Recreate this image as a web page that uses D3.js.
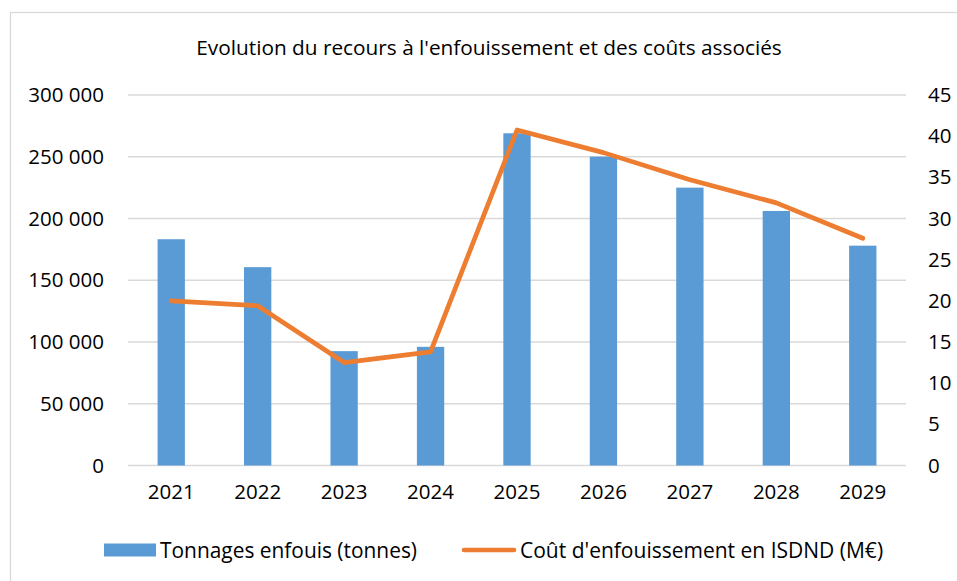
<!DOCTYPE html>
<html>
<head>
    <title>Evolution du recours à l'enfouissement</title>
    <script src="https://d3js.org/d3.v7.min.js"></script>
    <style>
        body, html {
            margin: 0;
            background: #fff;
            overflow: hidden;
        }
        text {
            font-family: "Open Sans", "Noto Sans", sans-serif;
            fill: #000;
        }
    </style>
</head>
<body>
<div id="chart"></div>
<script>
    // data
    const years = ["2021", "2022", "2023", "2024", "2025", "2026", "2027", "2028", "2029"];
    const tonnages = [183200, 160600, 92600, 96100, 269000, 250100, 225000, 206100, 178000];
    const costs = [20.0, 19.4, 12.5, 13.8, 40.75, 38.0, 34.7, 31.9, 27.6];
    const leftTicks = [0, 50000, 100000, 150000, 200000, 250000, 300000];
    const rightTicks = [0, 5, 10, 15, 20, 25, 30, 35, 40, 45];

    const width = 957,
          height = 581,
          plot = {left: 128, right: 906, top: 95, bottom: 465.5};

    const svg = d3.select("#chart")
                  .append("svg")
                  .attr("width", width)
                  .attr("height", height);

    // chart frame (runs off the right and bottom edges in the reference)
    svg.append("rect")
       .attr("x", 10.5).attr("y", 12.5)
       .attr("width", 960).attr("height", 580)
       .attr("fill", "none")
       .attr("stroke", "#d9d9d9")
       .attr("stroke-width", 1.3);

    const x = d3.scaleBand()
                .domain(years)
                .range([plot.left, plot.right]);

    const yLeft = d3.scaleLinear()
                    .domain([0, 300000])
                    .range([plot.bottom, plot.top]);

    const yRight = d3.scaleLinear()
                     .domain([0, 45])
                     .range([plot.bottom, plot.top]);

    const fmt = v => d3.format(",")(v).replace(/,/g, " ");

    // gridlines
    svg.append("g")
       .selectAll("line")
       .data(leftTicks)
       .join("line")
       .attr("x1", plot.left).attr("x2", plot.right)
       .attr("y1", d => yLeft(d)).attr("y2", d => yLeft(d))
       .attr("stroke", "#d9d9d9")
       .attr("stroke-width", 1.3);

    // left axis
    const leftAxis = svg.append("g")
       .attr("transform", `translate(${plot.left - 24},0)`)
       .call(d3.axisLeft(yLeft).tickValues(leftTicks).tickFormat(fmt).tickSize(0).tickPadding(0));
    leftAxis.select(".domain").remove();

    // right axis
    const rightAxis = svg.append("g")
       .attr("transform", `translate(${plot.right + 22},0)`)
       .call(d3.axisRight(yRight).tickValues(rightTicks).tickSize(0).tickPadding(0));
    rightAxis.select(".domain").remove();

    // bottom axis labels
    const bottomAxis = svg.append("g")
       .attr("transform", `translate(0,${plot.bottom + 19})`)
       .call(d3.axisBottom(x).tickSize(0).tickPadding(0));
    bottomAxis.select(".domain").remove();

    svg.selectAll(".tick text")
       .attr("font-size", 20.5)
       .attr("font-family", null)
       .attr("fill", "#000");

    // bars
    const barW = x.bandwidth() * 0.316;
    svg.append("g")
       .selectAll("rect")
       .data(years)
       .join("rect")
       .attr("x", (d, i) => x(d) + x.bandwidth() / 2 - barW / 2)
       .attr("y", (d, i) => yLeft(tonnages[i]))
       .attr("width", barW)
       .attr("height", (d, i) => yLeft(0) - yLeft(tonnages[i]))
       .attr("fill", "#5b9bd5");

    // line
    const line = d3.line()
                   .x((d, i) => x(years[i]) + x.bandwidth() / 2)
                   .y(d => yRight(d));

    svg.append("path")
       .datum(costs)
       .attr("d", line)
       .attr("fill", "none")
       .attr("stroke", "#ed7d31")
       .attr("stroke-width", 4.7)
       .attr("stroke-linejoin", "round")
       .attr("stroke-linecap", "round");

    // title
    svg.append("text")
       .attr("x", 489)
       .attr("y", 55)
       .attr("text-anchor", "middle")
       .attr("font-size", 20.8)
       .text("Evolution du recours à l'enfouissement et des coûts associés");

    // legend
    const legend = svg.append("g");
    legend.append("rect")
          .attr("x", 104).attr("y", 543.5)
          .attr("width", 52).attr("height", 13)
          .attr("fill", "#5b9bd5");
    legend.append("text")
          .attr("x", 160).attr("y", 557.5)
          .attr("font-size", 20.9)
          .text("Tonnages enfouis (tonnes)");
    legend.append("line")
          .attr("x1", 464).attr("x2", 514)
          .attr("y1", 550).attr("y2", 550)
          .attr("stroke", "#ed7d31")
          .attr("stroke-width", 4.7)
          .attr("stroke-linecap", "round");
    legend.append("text")
          .attr("x", 520).attr("y", 557.5)
          .attr("font-size", 21)
          .text("Coût d'enfouissement en ISDND (M€)");
</script>
</body>
</html>
